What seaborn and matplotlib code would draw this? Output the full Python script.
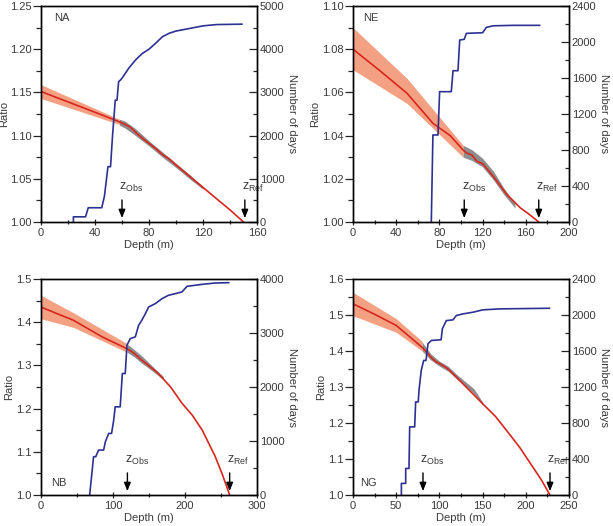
import numpy as np
import matplotlib
matplotlib.use('Agg')
import matplotlib.pyplot as plt
import matplotlib.transforms as mtransforms
from matplotlib.ticker import MultipleLocator
import seaborn as sns

# ---- NA ----
na_red_depth = [0, 20, 40, 58, 62, 66, 70, 75, 80, 85, 90, 95, 100, 110, 120, 130, 140, 150]
na_red_ratio = [1.151, 1.139, 1.127, 1.116, 1.113, 1.110, 1.104, 1.097, 1.091, 1.085, 1.078,
                1.073, 1.066, 1.053, 1.040, 1.027, 1.014, 1.000]
na_band_depth = [0, 58]
na_band_lo = [1.143, 1.113]
na_band_hi = [1.159, 1.119]
na_obs_depth = [58, 62, 70, 80, 90, 100, 110, 120]
na_obs_lo = [1.112, 1.109, 1.100, 1.088, 1.075, 1.063, 1.050, 1.038]
na_obs_hi = [1.119, 1.117, 1.108, 1.094, 1.081, 1.068, 1.055, 1.041]
na_days_depth = [24, 24, 33, 35, 45, 47, 49.6, 51.5, 53, 55, 56.3, 57.5, 59, 60.5, 62, 65,
                 70, 75, 80, 85, 90, 95, 100, 110, 120, 130, 149]
na_days = [0, 120, 120, 330, 330, 600, 1280, 1280, 2000, 2820, 2820, 3250, 3290, 3350, 3420,
           3560, 3750, 3900, 4000, 4140, 4290, 4370, 4420, 4480, 4540, 4570, 4580]

# ---- NE ----
ne_red_depth = [0, 25, 50, 74, 90, 102, 105, 110, 115, 120, 125, 130, 136, 142, 148, 155, 162, 172]
ne_red_ratio = [1.080, 1.070, 1.0596, 1.0457, 1.040, 1.0333, 1.032, 1.031, 1.028, 1.027, 1.024,
                1.021, 1.017, 1.013, 1.010, 1.0065, 1.004, 1.000]
ne_band_depth = [0, 50, 102]
ne_band_lo = [1.0705, 1.0549, 1.030]
ne_band_hi = [1.090, 1.0665, 1.0355]
ne_obs_depth = [102, 110, 120, 130, 140, 150]
ne_obs_lo = [1.030, 1.0285, 1.0255, 1.0195, 1.0125, 1.0065]
ne_obs_hi = [1.0355, 1.0335, 1.0295, 1.0235, 1.0155, 1.0085]
ne_days_depth = [72.5, 74, 78.7, 80.2, 91, 92.6, 97.2, 98.8, 103, 105, 120, 123.5, 130, 148, 173]
ne_days = [0, 967, 967, 1448, 1448, 1681, 1681, 2022, 2030, 2096, 2103, 2163, 2180, 2185, 2185]

# ---- NB ----
nb_red_depth = [0, 45, 85, 119, 125, 130, 140, 150, 163, 180, 196, 210, 224, 242, 252, 262]
nb_red_ratio = [1.435, 1.4045, 1.366, 1.339, 1.333, 1.327, 1.312, 1.299, 1.281, 1.250, 1.212,
                1.185, 1.150, 1.089, 1.047, 1.000]
nb_band_depth = [0, 45, 120]
nb_band_lo = [1.408, 1.388, 1.330]
nb_band_hi = [1.462, 1.422, 1.350]
nb_obs_depth = [120, 130, 140, 150, 160, 170]
nb_obs_lo = [1.330, 1.319, 1.305, 1.293, 1.280, 1.267]
nb_obs_hi = [1.349, 1.336, 1.322, 1.306, 1.290, 1.274]
nb_days_depth = [67.6, 73, 76, 80, 87, 89.4, 94, 98, 101, 103, 110, 113, 117, 119.4, 124, 131,
                 135.6, 140, 145, 149.5, 158.8, 168, 177, 195.8, 202.8, 223.6, 242, 261]
nb_days = [0, 709, 709, 832, 832, 986, 1140, 1140, 1387, 1633, 1633, 2250, 2250, 2774, 2897,
           2928, 3143, 3236, 3359, 3482, 3544, 3636, 3698, 3760, 3864, 3901, 3926, 3932]

# ---- NG ----
ng_red_depth = [0, 25, 50, 73, 80, 85, 90, 95, 100, 104, 110, 119.6, 135, 150, 165, 177.5,
                193, 208, 218, 228]
ng_red_ratio = [1.531, 1.502, 1.471, 1.4246, 1.410, 1.398, 1.383, 1.372, 1.365, 1.360, 1.350,
                1.3277, 1.290, 1.2538, 1.218, 1.180, 1.132, 1.078, 1.042, 1.000]
ng_band_depth = [0, 50, 80]
ng_band_lo = [1.498, 1.452, 1.400]
ng_band_hi = [1.563, 1.490, 1.427]
ng_obs_depth = [80, 90, 100, 110, 120, 130, 140, 150]
ng_obs_lo = [1.400, 1.375, 1.358, 1.344, 1.322, 1.303, 1.282, 1.250]
ng_obs_hi = [1.425, 1.392, 1.372, 1.358, 1.335, 1.315, 1.295, 1.258]
ng_days_depth = [56, 56, 61, 61, 64.8, 65.6, 71.4, 72.5, 75.5, 76.4, 79, 81.8, 84.5, 86.8, 90.7,
                 102, 103.4, 108, 115.7, 119.6, 127, 139, 150, 170, 227.6]
ng_days = [0, 129, 129, 295, 295, 757, 757, 1034, 1034, 1163, 1385, 1495, 1495, 1680, 1717,
           1725, 1846, 1938, 1946, 1994, 2012, 2031, 2057, 2068, 2075]

sns.set_style('ticks')
plt.rcParams['font.family'] = ['Liberation Sans', 'DejaVu Sans']
plt.rcParams['mathtext.fontset'] = 'custom'
plt.rcParams['mathtext.rm'] = 'Liberation Sans'

TXT = '#3a3a3a'
BLUE = '#2d3192'
RED = '#d7261e'
ORANGE = '#f4a183'
GRAY = '#8d8d8d'

fig = plt.figure(figsize=(6.13, 5.26), dpi=100)


def panel(rect, name, name_pos, red_d, red_r, band_d, band_lo, band_hi, obs_d, obs_lo, obs_hi,
          days_d, days, xlim, xmaj, xmin, ylim, ymaj, ymin, yfmt, dlim, dmaj, dmin, z_obs, z_ref):
    ax = fig.add_axes(rect)
    ax2 = ax.twinx()

    ax.fill_between(band_d, band_lo, band_hi, color=ORANGE, lw=0, zorder=1)
    ax.fill_between(obs_d, obs_lo, obs_hi, color=GRAY, lw=0, zorder=1)
    sns.lineplot(x=red_d, y=red_r, ax=ax, color=RED, lw=1.2, estimator=None, sort=False, zorder=2)
    sns.lineplot(x=days_d, y=days, ax=ax2, color=BLUE, lw=1.2, estimator=None, sort=False)

    ax.set_xlim(*xlim)
    ax.set_ylim(*ylim)
    ax2.set_ylim(*dlim)
    ax.xaxis.set_major_locator(MultipleLocator(xmaj))
    ax.xaxis.set_minor_locator(MultipleLocator(xmin))
    ax.yaxis.set_major_locator(MultipleLocator(ymaj))
    ax.yaxis.set_minor_locator(MultipleLocator(ymin))
    ax.yaxis.set_major_formatter(plt.FormatStrFormatter(yfmt))
    ax2.yaxis.set_major_locator(MultipleLocator(dmaj))
    ax2.yaxis.set_minor_locator(MultipleLocator(dmin))

    ax.tick_params(axis='y', which='major', direction='out', length=6, width=0.9,
                   labelsize=8, labelcolor=TXT, pad=1)
    ax.tick_params(axis='y', which='minor', direction='out', length=3.5, width=0.9)
    ax.tick_params(axis='x', which='major', direction='inout', length=5, width=0.9,
                   labelsize=8, labelcolor=TXT, pad=2)
    ax.tick_params(axis='x', which='minor', direction='inout', length=3, width=0.9)
    ax2.tick_params(axis='y', which='major', direction='in', length=5.5, width=0.9,
                    labelsize=8, labelcolor=TXT, pad=2)
    ax2.tick_params(axis='y', which='minor', direction='in', length=3, width=0.9)

    for a in (ax, ax2):
        for s in a.spines.values():
            s.set_linewidth(1.0)
            s.set_color('black')

    ax.set_xlabel('Depth (m)', fontsize=8, color=TXT, labelpad=1)
    ax.set_ylabel('Ratio', fontsize=8, color=TXT, labelpad=1)
    ax2.set_ylabel('Number of days', fontsize=8, color=TXT, rotation=270, labelpad=9)

    ax.text(name_pos[0], name_pos[1], name, transform=ax.transAxes, fontsize=8, color=TXT,
            va='center', ha='left')

    trans = mtransforms.blended_transform_factory(ax.transData, ax.transAxes)
    for d, lab in ((z_obs, 'Obs'), (z_ref, 'Ref')):
        ax.annotate('', xy=(d, 0.005), xytext=(d, 0.115), xycoords=trans, textcoords=trans,
                    arrowprops=dict(arrowstyle='-|>,head_length=0.5,head_width=0.2',
                                    color='black', lw=1.0), zorder=5)
        ax.text(d - (xlim[1] - xlim[0]) * 0.012, 0.13, r'$\mathregular{z_{%s}}$' % lab,
                transform=trans, fontsize=9, color=TXT, ha='left', va='bottom')
    ax.set_zorder(ax2.get_zorder() - 1)
    return ax, ax2


left_x, right_x = 41 / 613, 353 / 613
w = 216 / 613
top_b, bot_b = 1 - 222 / 526, 1 - 495 / 526
h = 216 / 526

ax_na, _ = panel([left_x, top_b, w, h], 'NA', (0.06, 0.943),
                 na_red_depth, na_red_ratio, na_band_depth, na_band_lo, na_band_hi,
                 na_obs_depth, na_obs_lo, na_obs_hi, na_days_depth, na_days,
                 (0, 160), 40, 20, (1.0, 1.25), 0.05, 0.025, '%.2f', (0, 5000), 1000, 500, 60, 151)
# keep the NA "Ratio" label inside the canvas
ax_na.yaxis.set_label_coords(-0.148, 0.5)

panel([right_x, top_b, w, h], 'NE', (0.045, 0.943),
      ne_red_depth, ne_red_ratio, ne_band_depth, ne_band_lo, ne_band_hi,
      ne_obs_depth, ne_obs_lo, ne_obs_hi, ne_days_depth, ne_days,
      (0, 200), 40, 20, (1.0, 1.10), 0.02, 0.01, '%.2f', (0, 2400), 400, 200, 103, 172)

panel([left_x, bot_b, w, h], 'NB', (0.045, 0.057),
      nb_red_depth, nb_red_ratio, nb_band_depth, nb_band_lo, nb_band_hi,
      nb_obs_depth, nb_obs_lo, nb_obs_hi, nb_days_depth, nb_days,
      (0, 300), 100, 50, (1.0, 1.5), 0.1, 0.05, '%.1f', (0, 4000), 1000, 500, 120, 262)

panel([right_x, bot_b, w, h], 'NG', (0.035, 0.057),
      ng_red_depth, ng_red_ratio, ng_band_depth, ng_band_lo, ng_band_hi,
      ng_obs_depth, ng_obs_lo, ng_obs_hi, ng_days_depth, ng_days,
      (0, 250), 50, 25, (1.0, 1.6), 0.1, 0.05, '%.1f', (0, 2400), 400, 200, 81, 228)

fig.savefig('out.png', dpi=100)
